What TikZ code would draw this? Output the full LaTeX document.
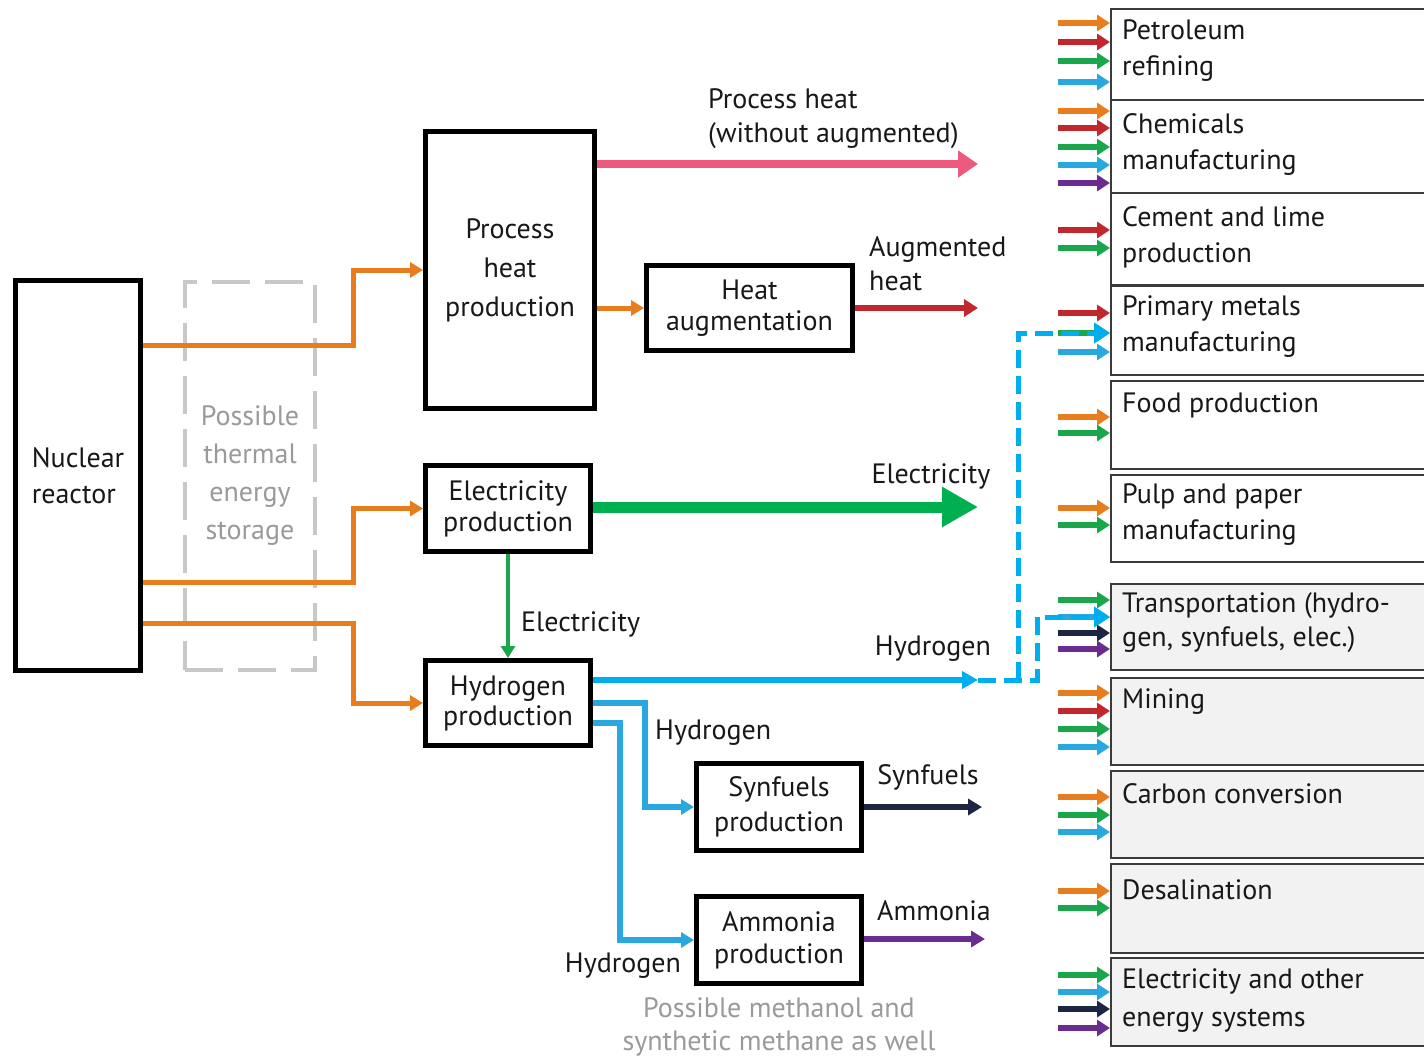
\documentclass[tikz,border=0pt]{standalone}
\usepackage{fontspec}
\setmainfont{PT Sans}
\usetikzlibrary{arrows.meta}
\definecolor{cOr}{HTML}{E87D1E}
\definecolor{cRd}{HTML}{C1272D}
\definecolor{cPk}{HTML}{EE5A7E}
\definecolor{cGn}{HTML}{1AA64A}
\definecolor{cGb}{HTML}{00B050}
\definecolor{cBl}{HTML}{29A8E0}
\definecolor{cHb}{HTML}{00AEEF}
\definecolor{cNv}{HTML}{1C2541}
\definecolor{cPu}{HTML}{6B2C91}
\definecolor{cTx}{HTML}{1A1718}
\definecolor{cGy}{HTML}{9A9A9A}
\definecolor{cGl}{HTML}{C8C8C8}
\definecolor{cFl}{HTML}{F2F2F2}
\tikzset{
  txt/.style={font=\fontsize{28}{36}\selectfont, text=cTx, inner sep=0pt},
  blk/.style={draw=black, line width=5pt, fill=white, txt, align=center},
  sector/.style={draw=cTx!85, line width=2pt, anchor=north west, minimum width=330pt},
  inarrow/.style={line width=5.5pt, -{Triangle[length=13pt,width=16pt]}},
  orarr/.style={cOr, line width=5pt, -{Triangle[length=13pt,width=15pt]}},
  dashblue/.style={cHb, line width=5pt, dash pattern=on 18pt off 8pt, -{Triangle[length=16pt,width=20pt]}},
}
\begin{document}
\begin{tikzpicture}[x=1pt,y=-1pt]
\useasboundingbox[fill=white] (0,0) rectangle (1424,1057);

% left blocks
\node[blk, minimum width=125pt, minimum height=390pt, align=left] (re) at (78,475.5) {Nuclear\\reactor};
\node[draw=cGl, line width=4.5pt, dash pattern=on 38pt off 15pt, minimum width=130pt, minimum height=388pt,
      font=\fontsize{28}{38}\selectfont, text=cGy, align=center, inner sep=0pt] (st) at (250,476) {Possible\\thermal\\energy\\storage};
\node[blk, minimum width=169pt, minimum height=277pt, font=\fontsize{28}{39}\selectfont] (ph) at (510,270) {Process\\heat\\production};
\node[blk, minimum width=206pt, minimum height=85pt, font=\fontsize{28}{31}\selectfont] (ha) at (749.5,308) {Heat\\augmentation};
\node[blk, minimum width=165pt, minimum height=86pt, font=\fontsize{28}{31}\selectfont] (ep) at (508,508.5) {Electricity\\production};
\node[blk, minimum width=165pt, minimum height=85pt, font=\fontsize{28}{30}\selectfont] (hp) at (508,703) {Hydrogen\\production};
\node[blk, minimum width=165pt, minimum height=87pt, font=\fontsize{28}{35}\selectfont] (sf) at (779,807) {Synfuels\\production};
\node[blk, minimum width=165pt, minimum height=87pt, font=\fontsize{28}{32}\selectfont] (am) at (779,940) {Ammonia\\production};

% free ends
\coordinate (phend) at (978,164);
\coordinate (haend) at (978,308);
\coordinate (elend) at (978,507);
\coordinate (hyend) at (978,680);
\coordinate (sfend) at (982,807);
\coordinate (amend) at (985,939);

% reactor outputs
\draw[orarr] (re.east |- 0,345) -- (353,345) |- (ph.west);
\draw[orarr] (re.east |- 0,582) -- (353,582) |- (ep.west);
\draw[orarr] (re.east |- 0,623) -- (353,623) |- (hp.west);

% process heat outputs
\draw[cPk, line width=8pt, -{Triangle[length=20pt,width=26pt]}] (ph.east |- 0,164) -- (phend);
\draw[orarr] (ph.east |- 0,308) -- (ha.west);
\draw[cRd, line width=5.5pt, -{Triangle[length=14pt,width=17pt]}] (ha.east) -- (haend);

% electricity
\draw[cGb, line width=11pt, -{Triangle[length=36pt,width=38pt]}] (ep.east |- 0,507) -- (elend);
\draw[cGn, line width=4.5pt, -{Triangle[length=12pt,width=14pt]}] (ep.south) -- (hp.north);

% hydrogen
\draw[cHb, line width=6pt, -{Triangle[length=16pt,width=17pt]}] (hp.east |- 0,680) -- (hyend);
\draw[cBl, line width=5.5pt, -{Triangle[length=13pt,width=15pt]}] (hp.east |- 0,703) -- (645,703) |- (sf.west);
\draw[cBl, line width=5.5pt, -{Triangle[length=13pt,width=15pt]}] (hp.east |- 0,723) -- (620,723) |- (am.west);
\draw[cNv, line width=5.5pt, -{Triangle[length=14pt,width=16pt]}] (sf.east) -- (sfend);
\draw[cPu, line width=5.5pt, -{Triangle[length=14pt,width=16pt]}] (am.east |- 0,939) -- (amend);

% labels
\node[txt, anchor=west, align=left, font=\fontsize{28}{34}\selectfont] (l1) at (708,119) {Process heat\\(without augmented)};
\node[txt, anchor=west, align=left, font=\fontsize{28}{34}\selectfont] (l2) at (869,264) {Augmented\\heat};
\node[txt] (l3) at (931,476) {Electricity};
\node[txt, anchor=west] (l4) at (521,624) {Electricity};
\node[txt] (l5) at (933,649) {Hydrogen};
\node[txt, anchor=west] (l6) at (655,733) {Hydrogen};
\node[txt] (l7) at (928,777) {Synfuels};
\node[txt] (l8) at (934,911) {Ammonia};
\node[txt] (l9) at (623,966) {Hydrogen};
\node[txt, text=cGy, align=center, font=\fontsize{28}{33}\selectfont] (l10) at (779,1027) {Possible methanol and\\synthetic methane as well};

% right column sectors
\node[sector, fill=white, minimum height=91pt] (s1) at (1110,8) {};
\node[sector, fill=white, minimum height=93pt] (s2) at (1110,99) {};
\node[sector, fill=white, minimum height=92pt] (s3) at (1110,192) {};
\node[sector, fill=white, minimum height=89pt] (s4) at (1110,285) {};
\node[sector, fill=white, minimum height=88pt] (s5) at (1110,380) {};
\node[sector, fill=white, minimum height=87pt] (s6) at (1110,474) {};
\node[sector, fill=cFl, minimum height=86pt] (s7) at (1110,583) {};
\node[sector, fill=cFl, minimum height=87pt] (s8) at (1110,677) {};
\node[sector, fill=cFl, minimum height=87pt] (s9) at (1110,770) {};
\node[sector, fill=cFl, minimum height=89pt] (s10) at (1110,863) {};
\node[sector, fill=cFl, minimum height=88pt] (s11) at (1110,957) {};

\node[txt, anchor=west, align=left] (t1) at (1122,50.5) {Petroleum\\refining};
\node[txt, anchor=west, align=left] (t2) at (1122,144) {Chemicals\\manufacturing};
\node[txt, anchor=west, align=left] (t3) at (1122,237) {Cement and lime\\production};
\node[txt, anchor=west, align=left] (t4) at (1122,326.5) {Primary metals\\manufacturing};
\node[txt, anchor=west] (t5) at (1122,405) {Food production};
\node[txt, anchor=west, align=left] (t6) at (1122,514.5) {Pulp and paper\\manufacturing};
\node[txt, anchor=west, align=left, font=\fontsize{28}{34}\selectfont] (t7) at (1122,623) {Transportation (hydro-\\gen, synfuels, elec.)};
\node[txt, anchor=west] (t8) at (1122,702) {Mining};
\node[txt, anchor=west] (t9) at (1122,794) {Carbon conversion};
\node[txt, anchor=west] (t10) at (1122,890) {Desalination};
\node[txt, anchor=west, align=left, font=\fontsize{28}{38}\selectfont] (t11) at (1122,1001) {Electricity and other\\energy systems};

% input arrows
\foreach \b/\c/\y in {s1/cOr/23, s1/cRd/42, s1/cGn/61, s1/cBl/82,
  s2/cOr/111, s2/cRd/128, s2/cGn/147, s2/cBl/165, s2/cPu/183,
  s3/cRd/230, s3/cGn/248,
  s4/cRd/313, s4/cGn/333, s4/cBl/352,
  s5/cOr/417, s5/cGn/433,
  s6/cOr/508, s6/cGn/525,
  s7/cGn/600, s7/cBl/617, s7/cNv/633, s7/cPu/649,
  s8/cOr/693, s8/cRd/711, s8/cGn/729, s8/cBl/747,
  s9/cOr/797, s9/cGn/815, s9/cBl/832,
  s10/cOr/891, s10/cGn/908,
  s11/cGn/975, s11/cBl/992, s11/cNv/1009, s11/cPu/1028}
  \draw[inarrow, \c] (\b.west |- 0,\y) ++(-52,0) -- (\b.west |- 0,\y);

% dashed hydrogen distribution
\coordinate (dj) at (1018,680);
\draw[dashblue] (hyend) -- (1037,680) -- (1037,617) -- (s7.west |- 0,617);
\draw[dashblue] (dj) -- (1018,333) -- (s4.west |- 0,333);
\end{tikzpicture}
\end{document}
